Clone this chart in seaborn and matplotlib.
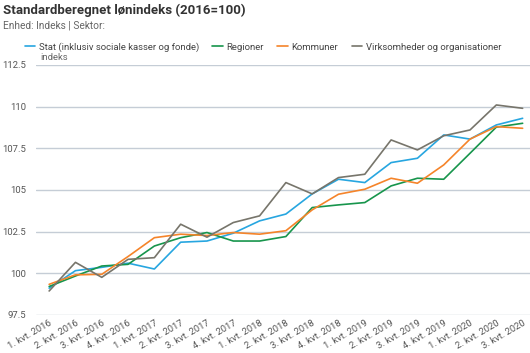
import pandas as pd
import matplotlib
matplotlib.use("Agg")
import matplotlib.pyplot as plt
import seaborn as sns
from matplotlib.lines import Line2D

quarters = ['1. kvt. 2016', '2. kvt. 2016', '3. kvt. 2016', '4. kvt. 2016',
            '1. kvt. 2017', '2. kvt. 2017', '3. kvt. 2017', '4. kvt. 2017',
            '1. kvt. 2018', '2. kvt. 2018', '3. kvt. 2018', '4. kvt. 2018',
            '1. kvt. 2019', '2. kvt. 2019', '3. kvt. 2019', '4. kvt. 2019',
            '1. kvt. 2020', '2. kvt. 2020', '3. kvt. 2020']

stat = [99.1, 100.15, 100.35, 100.6, 100.25, 101.86, 101.93, 102.4, 103.14, 103.55,
        104.76, 105.64, 105.44, 106.64, 106.9, 108.3, 108.05, 108.9, 109.3]
regioner = [99.2, 99.83, 100.43, 100.53, 101.63, 102.13, 102.44, 101.93, 101.93, 102.2,
            103.94, 104.1, 104.24, 105.24, 105.7, 105.64, 107.2, 108.77, 109.0]
kommuner = [99.33, 99.9, 99.93, 101.0, 102.13, 102.34, 102.26, 102.44, 102.34, 102.55,
            103.8, 104.74, 105.04, 105.7, 105.4, 106.5, 108.05, 108.8, 108.7]
virksomheder = [98.93, 100.65, 99.75, 100.83, 100.93, 102.94, 102.16, 103.04, 103.44, 105.44,
                104.76, 105.74, 105.94, 108.0, 107.4, 108.25, 108.6, 110.1, 109.9]

series_names = ['Stat (inklusiv sociale kasser og fonde)', 'Regioner', 'Kommuner',
                'Virksomheder og organisationer']
colors = ['#27a6e0', '#17954c', '#f5842a', '#77756b']

rows = []
for name, vals in zip(series_names, [stat, regioner, kommuner, virksomheder]):
    for i, v in enumerate(vals):
        rows.append({'pos': i, 'value': v, 'sektor': name})
df = pd.DataFrame(rows)

sns.set_theme(style="white")
plt.rcParams['font.family'] = ['Roboto', 'DejaVu Sans']

fig = plt.figure(figsize=(5.3, 3.53), dpi=100)
ax = fig.add_axes([36/530, 1-314.8/353, 1-36/530, (314.8-65)/353])

sns.lineplot(data=df, x='pos', y='value', hue='sektor', palette=colors,
             hue_order=series_names, linewidth=1.2, ax=ax, legend=False)

ax.set_ylim(97.5, 112.5)
ax.set_xlim(-0.5, 18.28)
ax.set_yticks([97.5, 100, 102.5, 105, 107.5, 110, 112.5])
ax.set_yticklabels(['97.5', '100', '102.5', '105', '107.5', '110', '112.5'])
ax.set_xticks(range(len(quarters)))
ax.set_xticklabels(quarters, rotation=30, ha='right', rotation_mode='anchor')
ax.tick_params(axis='both', length=0, labelsize=6.8, colors='#555555')
ax.tick_params(axis='y', pad=7)
ax.tick_params(axis='x', pad=3)
ax.grid(axis='y', color='#c5cdd6', linewidth=1)
ax.set_axisbelow(True)
for s in ax.spines.values():
    s.set_visible(False)
ax.set_xlabel('')
ax.set_ylabel('')

fig.text(3/530, 1-10/353, 'Standardberegnet lønindeks (2016=100)', fontsize=9.5,
         fontweight='bold', color='#333333', va='center', ha='left')
fig.text(3/530, 1-25/353, 'Enhed: Indeks | Sektor:', fontsize=7.3, color='#666666',
         va='center', ha='left')
fig.text(40/530, 1-57/353, 'indeks', fontsize=6.8, color='#666666', va='center', ha='left')

handles = [Line2D([0], [0], color=c, linewidth=1.2, label=n) for c, n in zip(colors, series_names)]
fig.legend(handles=handles, loc='center', bbox_to_anchor=(263/530, 1-47/353), ncol=4,
           frameon=False, fontsize=6.8, handlelength=1.1, handletextpad=0.4,
           columnspacing=1.4, labelcolor='#444444', borderpad=0, borderaxespad=0)

fig.savefig('out.png', dpi=100)
